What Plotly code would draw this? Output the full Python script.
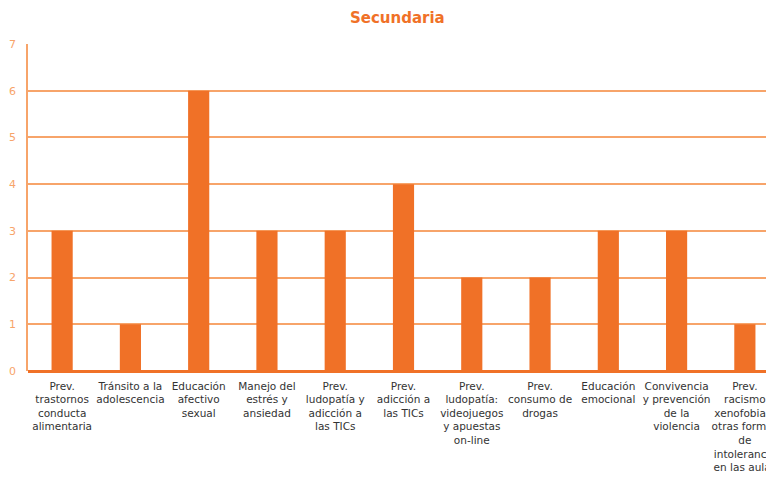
import plotly.graph_objects as go

categories = [
    "Prev.<br>trastornos<br>conducta<br>alimentaria",
    "Tránsito a la<br>adolescencia",
    "Educación<br>afectivo<br>sexual",
    "Manejo del<br>estrés y<br>ansiedad",
    "Prev.<br>ludopatía y<br>adicción a<br>las TICs",
    "Prev.<br>adicción a<br>las TICs",
    "Prev.<br>ludopatía:<br>videojuegos<br>y apuestas<br>on-line",
    "Prev.<br>consumo de<br>drogas",
    "Educación<br>emocional",
    "Convivencia<br>y prevención<br>de la<br>violencia",
    "Prev.<br>racismo<br>xenofobia y<br>otras formas<br>de<br>intolerancia<br>en las aulas",
]
values = [3, 1, 6, 3, 3, 4, 2, 2, 3, 3, 1]
y_ticks = [0, 1, 2, 3, 4, 5, 6, 7]

orange = "#F07127"
grid = "#F7A46A"

fig = go.Figure(go.Bar(
    x=list(range(len(categories))), y=values,
    marker=dict(color=orange, line=dict(width=0)),
    width=0.31,
))

fig.update_layout(
    width=774, height=477,
    margin=dict(l=20, r=3, t=36, b=114, autoexpand=False),
    paper_bgcolor="white", plot_bgcolor="white",
    showlegend=False,
    title=dict(text="<b>Secundaria</b>", x=0.503, xanchor="center", y=0.979, yanchor="middle",
               font=dict(family="DejaVu Sans", size=15, color=orange)),
    font=dict(family="DejaVu Sans", size=10.5, color="#333333"),
)
fig.update_xaxes(
    tickmode="array", tickvals=list(range(len(categories))), ticktext=categories,
    range=[-0.5, 10.5], showgrid=False, showline=False, zeroline=False,
    ticks="", tickangle=0, automargin=False, ticklabeloverflow="allow", ticklabelstandoff=7,
    tickfont=dict(family="DejaVu Sans", size=10.5, color="#333333"),
)
fig.update_yaxes(
    range=[0, 7], tickvals=y_ticks, showgrid=True, gridcolor=grid, gridwidth=1.5,
    showline=True, linecolor=grid, linewidth=1.5, automargin=False,
    zeroline=True, zerolinecolor=orange, zerolinewidth=2.5,
    tickfont=dict(family="DejaVu Sans", size=11, color=grid), ticks="", ticklabelstandoff=8,
)
fig.write_html("out.html")
